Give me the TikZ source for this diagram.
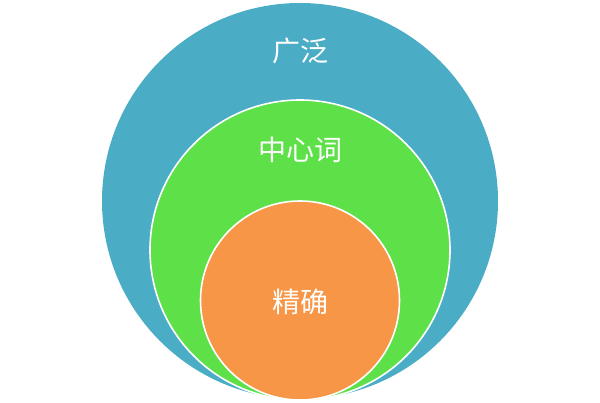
\documentclass[tikz,border=0pt]{standalone}
\usepackage{fontspec}
\newfontfamily\cjk{Noto Sans CJK SC}
\definecolor{cblue}{HTML}{4BACC6}
\definecolor{cgreen}{HTML}{5EE048}
\definecolor{corange}{HTML}{F79646}
\begin{document}
\begin{tikzpicture}[x=1pt,y=-1pt,
  ring/.style={circle, draw=white, line width=1.6pt, inner sep=0pt, outer sep=0pt},
  lbl/.style={text=white, font=\cjk\fontsize{28}{32}\selectfont, inner sep=0pt}]
\useasboundingbox (0,0) rectangle (600,403);
\node[ring, fill=cblue, draw=none, minimum size=396pt] (outer) at (300,201) {};
\node[ring, fill=cgreen, minimum size=300pt] (middle) at (300,250) {};
\node[ring, fill=corange, minimum size=199pt] (inner) at (300,300.5) {};
\node[lbl] (t1) at (300,51) {广泛};
\node[lbl] (t2) at (300,150) {中心词};
\node[lbl] (t3) at (300,302) {精确};
\end{tikzpicture}
\end{document}
